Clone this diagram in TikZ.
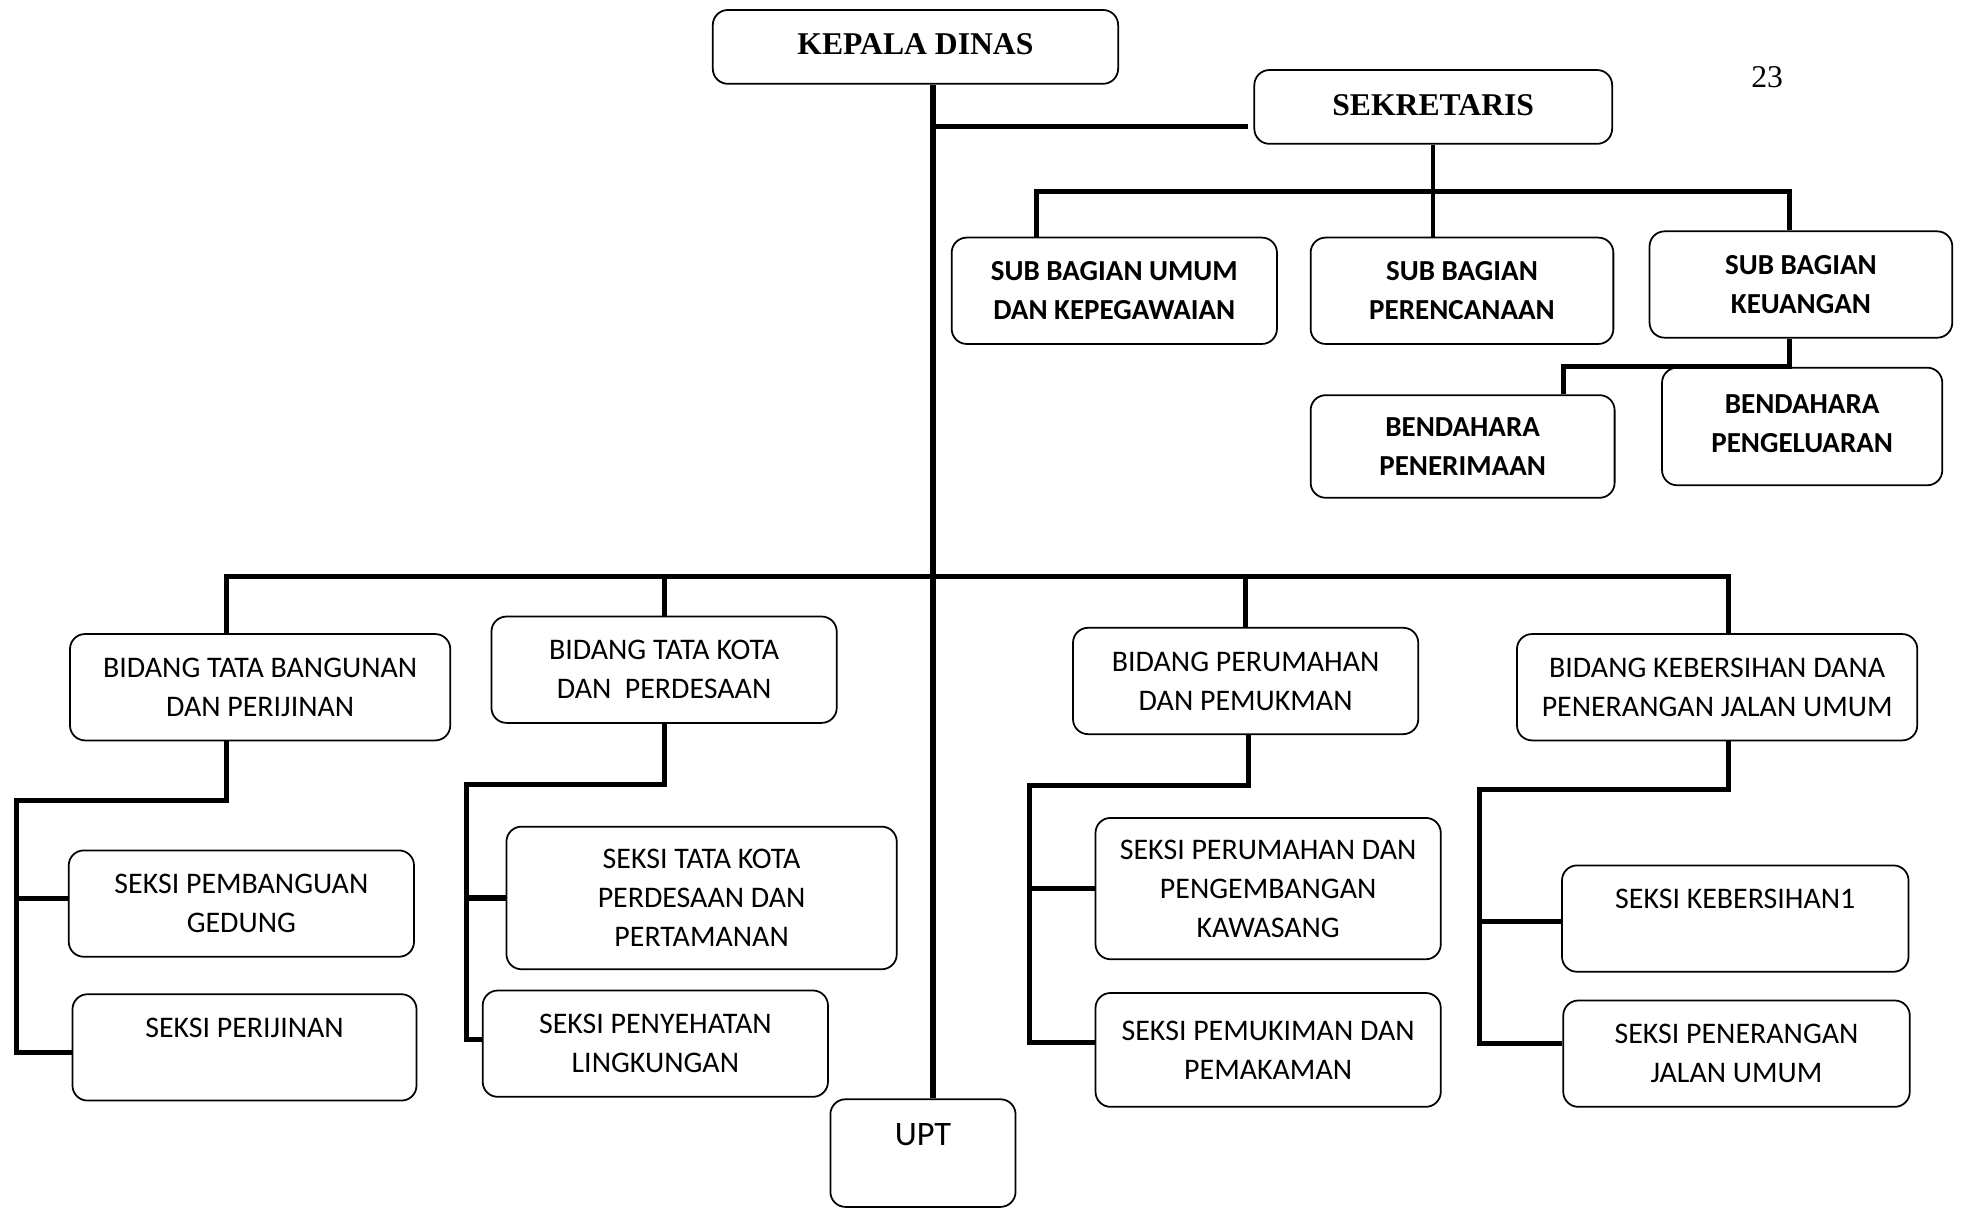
\documentclass[tikz,border=0pt]{standalone}
\usepackage{fontspec}
\setmainfont{Carlito}
\newfontfamily\timesfont{Liberation Serif}
\usepackage{tikz}
\usetikzlibrary{positioning, calc}
\tikzset{
  unit/.style={draw, rounded corners=0.3cm, line width=1pt, inner sep=0pt,
    align=center, font=\fontsize{17}{22.2}\selectfont},
  sub/.style={unit, font=\fontsize{16.5}{22}\selectfont\bfseries},
  head/.style={unit, font=\timesfont\fontsize{18}{22}\selectfont\bfseries},
  link/.style={line width=2.9pt}
}

\begin{document}
\begin{tikzpicture}[x=0.025cm, y=-0.025cm]

      \useasboundingbox (0,0) rectangle (1568,966);

      % UNITS

      \node[head, minimum width=8.1cm, minimum height=1.475cm] (kadis) at (732,37.5) {\raisebox{3pt}{KEPALA DINAS}};
      \node[head, minimum width=7.15cm, minimum height=1.475cm] (sekr) at (1146,85.5) {\raisebox{2pt}{SEKRETARIS}};
      \node[font=\timesfont\fontsize{18}{22}\selectfont] (page) at (1413,62) {23};

      \node[sub, minimum width=6.5cm, minimum height=2.125cm] (umum) at (891,232.5) {SUB BAGIAN UMUM\\DAN KEPEGAWAIAN};
      \node[sub, minimum width=6.05cm, minimum height=2.125cm] (renc) at (1169,232.5) {SUB BAGIAN\\PERENCANAAN};
      \node[sub, minimum width=6.05cm, minimum height=2.125cm] (keu) at (1440,227.5) {SUB BAGIAN\\KEUANGAN};
      \node[sub, minimum width=6.075cm, minimum height=2.05cm] (terima) at (1169.5,357) {BENDAHARA\\PENERIMAAN};
      \node[sub, minimum width=5.6cm, minimum height=2.35cm] (keluar) at (1441,341) {\raisebox{3pt}{BENDAHARA}\\\raisebox{3pt}{PENGELUARAN}};

      \node[unit, minimum width=7.6cm, minimum height=2.125cm] (bang) at (208,549.5) {BIDANG TATA BANGUNAN\\DAN PERIJINAN};
      \node[unit, minimum width=6.9cm, minimum height=2.125cm] (kota) at (531,535.5) {BIDANG TATA KOTA\\DAN~~PERDESAAN};
      \node[unit, minimum width=6.9cm, minimum height=2.125cm] (rumah) at (996,544.5) {BIDANG PERUMAHAN\\DAN PEMUKMAN};
      \node[unit, minimum width=8cm, minimum height=2.125cm] (bersih) at (1373,549.5) {BIDANG KEBERSIHAN DANA\\PENERANGAN JALAN UMUM};

      \node[unit, minimum width=6.9cm, minimum height=2.125cm] (gedung) at (193,722.5) {SEKSI PEMBANGUAN\\GEDUNG};
      \node[unit, minimum width=6.875cm, minimum height=2.125cm] (ijin) at (195.5,837.5) {SEKSI PERIJINAN\\~};
      \node[unit, minimum width=7.8cm, minimum height=2.85cm] (taman) at (561,718) {SEKSI TATA KOTA\\PERDESAAN DAN\\PERTAMANAN};
      \node[unit, minimum width=6.9cm, minimum height=2.125cm] (sehat) at (524,834.5) {SEKSI PENYEHATAN\\LINGKUNGAN};
      \node[unit, minimum width=6.9cm, minimum height=2.825cm] (kawasan) at (1014,710.5) {SEKSI PERUMAHAN DAN\\PENGEMBANGAN\\KAWASANG};
      \node[unit, minimum width=6.9cm, minimum height=2.275cm] (makam) at (1014,839.5) {SEKSI PEMUKIMAN DAN\\PEMAKAMAN};
      \node[unit, minimum width=6.925cm, minimum height=2.125cm] (sbersih) at (1387.5,734.5) {SEKSI KEBERSIHAN1\\~};
      \node[unit, minimum width=6.925cm, minimum height=2.125cm] (jalan) at (1388.5,842.5) {SEKSI PENERANGAN\\JALAN UMUM};

      \node[unit, minimum width=3.7cm, minimum height=2.15cm, font=\fontsize{19.5}{24}\selectfont] (upt) at (738,922) {\raisebox{-3pt}{UPT}\\~};

      % JUNCTIONS

      \coordinate (trunk) at (746,101);
      \coordinate (sbar) at (1146,153);
      \coordinate (kbar) at (1250,293);
      \coordinate (bbar) at (746,461);
      \coordinate (bl) at (13,640);
      \coordinate (kl) at (373,627);
      \coordinate (rl) at (823,628);
      \coordinate (el) at (1183,631);

      % LINKS

      \draw[link] (trunk |- kadis.south) -- (trunk |- upt.north);
      \draw[link] (trunk) -- ($(sekr.west |- trunk)-(4,0)$);

      \draw[link, line width=2.2pt] (sekr.south) -- (sekr.south |- renc.north);
      \draw[link] ($(umum.north)-(62,0)$) |- (sbar) -| ($(keu.north)-(9,0)$);
      \draw[link] ($(keu.south)-(9,0)$) |- (kbar) -- (kbar |- terima.north);

      \draw[link] ($(bang.north)-(27,0)$) |- (bbar) -| ($(bersih.north)+(9,0)$);
      \draw[link] (kota.north) -- (kota.north |- bbar);
      \draw[link] (rumah.north) -- (rumah.north |- bbar);

      \draw[link] ($(bang.south)-(27,0)$) |- (bl) |- ($(ijin.west)+(0,4)$);
      \draw[link] ($(bl |- gedung.west)+(0,-4)$) -- ($(gedung.west)+(0,-4)$);

      \draw[link] (kota.south) |- (kl) |- ($(sehat.west)+(0,-3)$);
      \draw[link] (kl |- taman.west) -- (taman.west);

      \draw[link] ($(rumah.south)+(2,0)$) |- (rl) |- ($(makam.west)+(0,-6)$);
      \draw[link] (rl |- kawasan.west) -- (kawasan.west);

      \draw[link] ($(bersih.south)+(9,0)$) |- (el) |- ($(jalan.west)+(0,-8)$);
      \draw[link] ($(el |- sbersih.west)+(0,2)$) -- ($(sbersih.west)+(0,2)$);

\end{tikzpicture}
\end{document}
